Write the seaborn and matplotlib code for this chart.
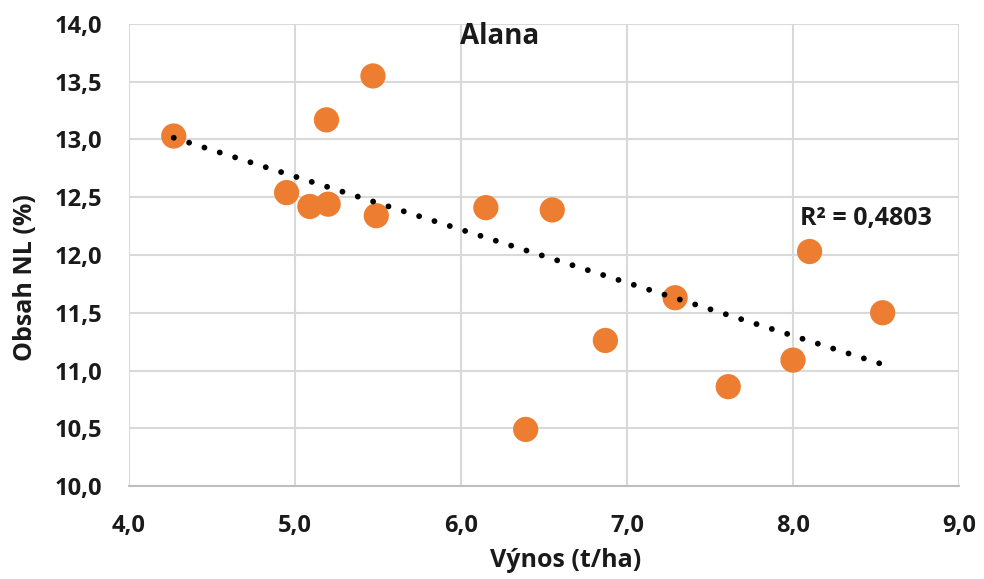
import numpy as np
import pandas as pd
import matplotlib
matplotlib.use("Agg")
import matplotlib.pyplot as plt
from matplotlib.ticker import FuncFormatter, MultipleLocator
import seaborn as sns

# Yield vs. oil content, cultivar Alana
vynos = [4.27, 5.47, 5.19, 4.95, 5.09, 5.20, 5.49, 6.15,
         6.55, 8.10, 7.29, 8.54, 6.87, 8.00, 7.61, 6.39]
obsah_nl = [13.03, 13.55, 13.17, 12.54, 12.42, 12.44, 12.34, 12.41,
            12.39, 12.03, 11.63, 11.50, 11.26, 11.09, 10.86, 10.49]
r2_label = "R² = 0,4803"
title = "Alana"

df = pd.DataFrame({"Výnos (t/ha)": vynos, "Obsah NL (%)": obsah_nl})

sns.set_theme(style="white")
plt.rcParams["font.family"] = ["Open Sans", "DejaVu Sans"]

fig = plt.figure(figsize=(9.84, 5.79), dpi=100)
ax = fig.add_axes([0.131, 0.1606, 0.8436, 0.798])

orange = "#ED7D31"
grid_c = "#D9D9D9"
txt_c = "#1a1a1a"

sns.scatterplot(data=df, x="Výnos (t/ha)", y="Obsah NL (%)", ax=ax,
                color=orange, s=330, edgecolor="none", zorder=3)
sns.regplot(data=df, x="Výnos (t/ha)", y="Obsah NL (%)", ax=ax,
            scatter=False, ci=None, truncate=True,
            line_kws=dict(color="black", lw=4.2, linestyle=(0, (0.01, 2.75)),
                          dash_capstyle="round", zorder=4))

ax.set_xlim(4.0, 9.0)
ax.set_ylim(10.0, 14.0)
ax.xaxis.set_major_locator(MultipleLocator(1.0))
ax.yaxis.set_major_locator(MultipleLocator(0.5))
fmt = FuncFormatter(lambda v, p: f"{v:.1f}".replace(".", ","))
ax.xaxis.set_major_formatter(fmt)
ax.yaxis.set_major_formatter(fmt)

ax.grid(True, color=grid_c, lw=1.5, zorder=0)
ax.set_axisbelow(True)
for side in ["top", "right", "left"]:
    ax.spines[side].set_visible(False)
ax.spines["bottom"].set_color("#BFBFBF")
ax.spines["bottom"].set_linewidth(1.5)

ax.tick_params(axis="both", length=0, labelsize=17, colors=txt_c)
ax.tick_params(axis="y", pad=19)
ax.tick_params(axis="x", pad=20)
for lab in ax.get_xticklabels() + ax.get_yticklabels():
    lab.set_fontweight("bold")

ax.set_xlabel("Výnos (t/ha)", fontsize=18, fontweight="bold", color=txt_c, va="center")
ax.set_ylabel("Obsah NL (%)", fontsize=18, fontweight="bold", color=txt_c, va="center")
ax.xaxis.set_label_coords(0.5265, -0.162)
ax.yaxis.set_label_coords(-0.125, 0.452)

fig.text(500 / 984, 1 - 36 / 579, title, ha="center", va="center",
         fontsize=20, fontweight="bold", color=txt_c)
ax.text(8.04, 12.32, r2_label, ha="left", va="center", fontsize=18,
        fontweight="bold", color=txt_c, transform=ax.transData)

fig.savefig("out.png", dpi=100)
